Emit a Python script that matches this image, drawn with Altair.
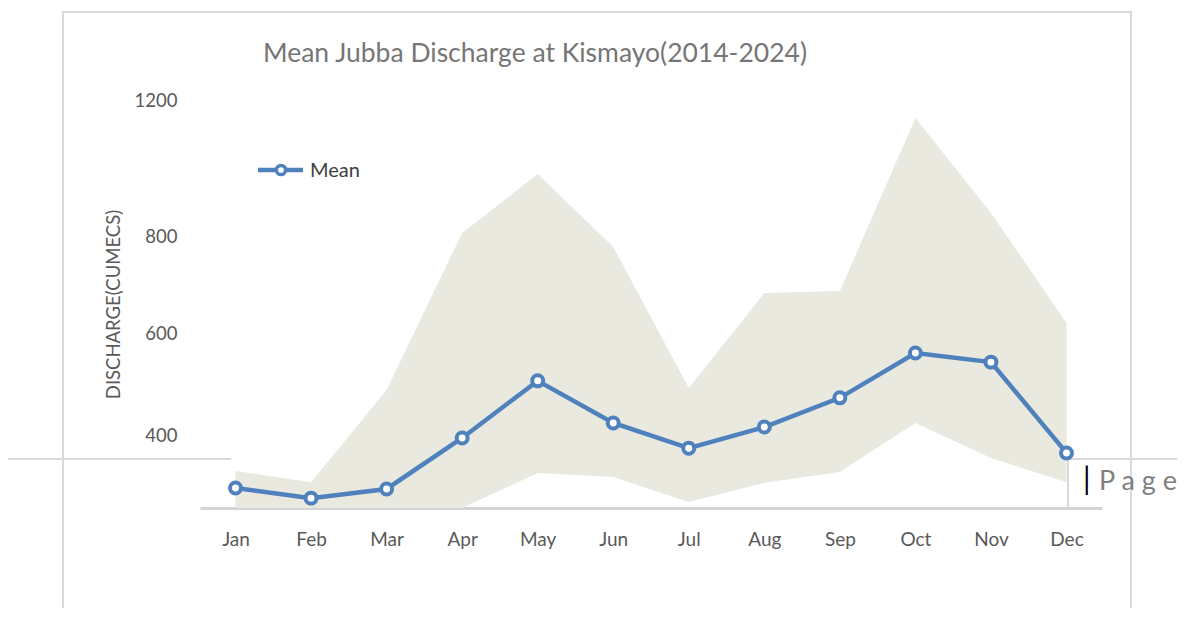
import altair as alt
import pandas as pd

months = ["Jan", "Feb", "Mar", "Apr", "May", "Jun", "Jul", "Aug", "Sep", "Oct", "Nov", "Dec"]
mean_q = [59, 29, 56, 206, 374, 250, 176, 238, 324, 456, 429, 162]
max_q = [109, 76, 347, 809, 982, 768, 353, 632, 638, 1147, 868, 544]
min_q = [0, 0, 0, 0, 103, 91, 18, 74, 106, 250, 147, 76]

# y tick positions and the labels printed at them in the source chart
tick_values = [214, 513, 800, 1200]
tick_labels = ["400", "600", "800", "1200"]

series_name = "Mean"
title_text = "Mean Jubba Discharge at Kismayo(2014-2024)"
y_title = "DISCHARGE(CUMECS)"

df = pd.DataFrame({"month": months, "mean": mean_q, "max": max_q, "min": min_q})
leg = pd.DataFrame({"label": [series_name]})
ttl = pd.DataFrame({"t": [title_text]})
one = pd.DataFrame({"k": [0]})

FONT = "Lato"
BLUE = "#4f81bd"
GREY_TXT = "#595959"

label_expr = " : ".join(
    f"datum.value == {v} ? '{t}'" for v, t in zip(tick_values, tick_labels)
) + " : ''"

x_enc = alt.X(
    "month:N",
    sort=months,
    scale=alt.Scale(type="point", padding=0.47),
    axis=alt.Axis(
        title=None, labelAngle=0, ticks=False, labelFontSize=19, labelColor=GREY_TXT,
        labelFont=FONT, labelPadding=22, domainColor="#d4d4d4", domainWidth=3,
        grid=False,
    ),
)
y_scale = alt.Scale(domain=[0, 1200], nice=False, zero=True)
y_axis = alt.Axis(
    values=tick_values, labelExpr=label_expr, ticks=False, domain=False, grid=False,
    labelFontSize=18.5, labelColor=GREY_TXT, labelFont=FONT, labelPadding=23,
    title=y_title, titleFontSize=18.5, titleFontWeight="normal", titleColor=GREY_TXT,
    titleFont=FONT, titlePadding=11,
)

base = alt.Chart(df)

frame = alt.Chart(one).mark_rect(fillOpacity=0, stroke="#d9d9d9", strokeWidth=2).encode(
    x=alt.value(-137), x2=alt.value(931), y=alt.value(-88), y2=alt.value(540)
)
page_line_l = alt.Chart(one).mark_rule(color="#d9d9d9", strokeWidth=2).encode(
    x=alt.value(-195), x2=alt.value(31), y=alt.value(359)
)
page_line_r = alt.Chart(one).mark_rule(color="#d9d9d9", strokeWidth=2).encode(
    x=alt.value(868), x2=alt.value(990), y=alt.value(359)
)
page_line_v = alt.Chart(one).mark_rule(color="#d9d9d9", strokeWidth=2).encode(
    x=alt.value(868), y=alt.value(359), y2=alt.value(408)
)

area = base.mark_area(color="#e9e9df", opacity=1).encode(
    x=x_enc,
    y=alt.Y("max:Q", scale=y_scale, axis=y_axis),
    y2="min:Q",
)
line = base.mark_line(color=BLUE, strokeWidth=4.5).encode(
    x=alt.X("month:N", sort=months), y="mean:Q"
)
pts = base.mark_point(
    filled=True, fill="white", stroke=BLUE, strokeWidth=4, size=120, opacity=1
).encode(x=alt.X("month:N", sort=months), y="mean:Q")

leg_line = alt.Chart(leg).mark_rule(color=BLUE, strokeWidth=4.5).encode(
    x=alt.value(58), x2=alt.value(103), y=alt.value(70)
)
leg_pt = alt.Chart(leg).mark_point(
    filled=True, fill="white", stroke=BLUE, strokeWidth=3.5, size=85, opacity=1
).encode(x=alt.value(81), y=alt.value(70))
leg_txt = alt.Chart(leg).mark_text(
    align="left", baseline="middle", fontSize=20, font=FONT, color="#404040"
).encode(x=alt.value(110), y=alt.value(71), text="label:N")

title_mark = alt.Chart(ttl).mark_text(
    align="center", baseline="middle", fontSize=26.5, font=FONT, color="#767676"
).encode(x=alt.value(335), y=alt.value(-46), text="t:N")

page_bar = alt.Chart(one).mark_text(
    text="|", align="left", baseline="middle", fontSize=30, font=FONT, color="#000000"
).encode(x=alt.value(883), y=alt.value(381))
page_txt = alt.Chart(one).mark_text(
    text="P a g e", align="left", baseline="middle", fontSize=27, font=FONT, color="#7f7f7f"
).encode(x=alt.value(899), y=alt.value(382))

chart = alt.layer(
    frame, page_line_l, page_line_r, page_line_v,
    area, line, pts, leg_line, leg_pt, leg_txt, title_mark, page_bar, page_txt,
).properties(
    width=902,
    height=408,
    padding={"left": 192, "top": 92, "right": 75, "bottom": 100},
    autosize=alt.AutoSizeParams(type="none"),
).configure_view(stroke=None)

chart.save("out.html", embed_options={"renderer": "svg", "actions": False})
